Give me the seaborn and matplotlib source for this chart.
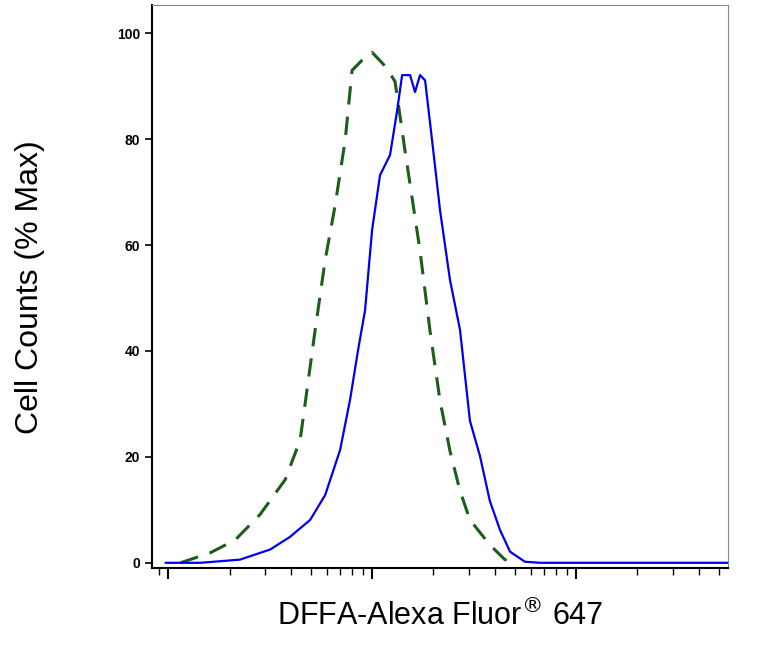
import matplotlib
matplotlib.use("Agg")
import matplotlib.pyplot as plt
import seaborn as sns
import numpy as np
from matplotlib.ticker import LogLocator, NullFormatter

sns.set_style("white")
plt.rcParams['font.family'] = ['Liberation Sans', 'DejaVu Sans']
plt.rcParams['text.color'] = 'black'
plt.rcParams['axes.labelcolor'] = 'black'
plt.rcParams['ytick.color'] = 'black'
plt.rcParams['xtick.color'] = 'black'

ctrl_x = [11.5, 16.1, 21.3, 28.2, 37.5, 44.4, 52.6, 58.9, 65.9, 73.8, 79.8, 89.3, 100, 115.8, 129.6,
          145.2, 171.9, 192.4, 215.4, 241.1, 269.9, 302, 378, 448, 502]
ctrl_y = [0, 1.9, 4.3, 9.1, 15.7, 23.2, 44.0, 57.2, 67.5, 79.8, 93.0, 94.9, 96.4, 93.8, 90.9,
          77.7, 58.9, 43.8, 30.6, 21.1, 13.6, 8.1, 3.4, 0.6, 0]
samp_x = [9.7, 14.4, 22.5, 31.6, 39.6, 49.7, 58.9, 69.7, 78.0, 85.4, 92.4, 100, 109.4, 122.5, 132.6,
          140.4, 153.6, 162.4, 171.9, 182, 196.9, 215.4, 241.1, 269.9, 302, 338, 378, 424, 475, 562, 667, 5560]
samp_y = [0, 0, 0.6, 2.5, 4.9, 8.1, 12.8, 21.3, 30.8, 40.2, 47.7, 62.8, 73.2, 77.0, 85.3,
          92.1, 92.1, 88.9, 92.1, 91.1, 79.8, 66.6, 53.4, 44.0, 26.8, 20.2, 11.7, 6.2, 2.1, 0.2, 0, 0]
y_ticks = [0, 20, 40, 60, 80, 100]

fig = plt.figure(figsize=(7.63, 6.5), dpi=100)
ax = fig.add_axes([0.199, 0.126, 0.755, 0.866])
sns.lineplot(x=ctrl_x, y=ctrl_y, ax=ax, color="#1a5e1a", linestyle=(0, (6, 4)), linewidth=2.2, sort=False)
sns.lineplot(x=samp_x, y=samp_y, ax=ax, color="#0000ee", linewidth=1.6, sort=False)
ax.set_xscale("log")
ax.set_xlim(10 ** 0.92, 10 ** 3.745)
ax.set_ylim(-1, 105.3)
ax.set_yticks(y_ticks)
ax.set_yticklabels([str(v) for v in y_ticks], fontsize=10, fontweight="bold")
ax.xaxis.set_major_locator(LogLocator(base=10))
ax.xaxis.set_minor_locator(LogLocator(base=10, subs=np.arange(2, 10)))
ax.xaxis.set_major_formatter(NullFormatter())
ax.xaxis.set_minor_formatter(NullFormatter())
ax.tick_params(axis="x", which="major", direction="out", length=8, width=1.5, bottom=True)
ax.tick_params(axis="x", which="minor", direction="out", length=5, width=1, bottom=True)
ax.tick_params(axis="y", direction="out", length=5, width=1.2, left=True)
for s in ax.spines.values():
    s.set_color("#888888")
ax.spines["left"].set_color("black")
ax.spines["bottom"].set_color("black")
ax.spines["left"].set_linewidth(1.5)
ax.spines["bottom"].set_linewidth(1.5)
ax.set_ylabel("Cell Counts (% Max)", fontsize=23, labelpad=52)
ax.set_xlabel("DFFA-Alexa Fluor$^{®}$ 647", fontsize=22, labelpad=12)
fig.savefig("out.png", dpi=100)
